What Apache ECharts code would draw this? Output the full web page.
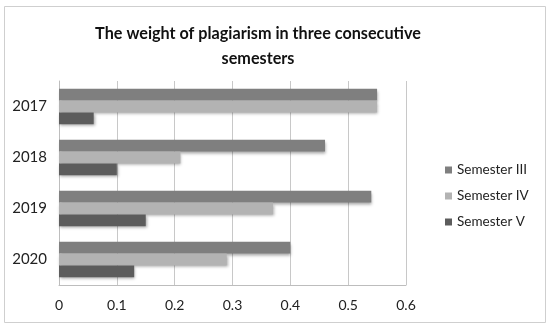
<!DOCTYPE html>
<html><head><meta charset="utf-8">
<script src="https://cdn.jsdelivr.net/npm/echarts@6/dist/echarts.min.js"></script>
<style>html,body{margin:0;padding:0;background:#fff}#c{width:550px;height:330px}</style>
</head><body><div id="c"></div>
<script>
const years = ['2017', '2018', '2019', '2020'];
const seriesNames = ['Semester III', 'Semester IV', 'Semester V'];
const semIII = [0.55, 0.46, 0.54, 0.40];
const semIV = [0.55, 0.21, 0.37, 0.29];
const semV = [0.06, 0.10, 0.15, 0.13];
const xTicks = [0, 0.1, 0.2, 0.3, 0.4, 0.5, 0.6];
const colors = ['#7f7f7f', '#b3b3b3', '#5c5c5c'];
const values = [semIII, semIV, semV];
const font = 'Lato, "Open Sans", sans-serif';
const chart = echarts.init(document.getElementById('c'));
chart.setOption({
  animation: false,
  color: colors,
  title: {
    text: 'The weight of plagiarism in three consecutive\nsemesters',
    left: 253, top: 16, textAlign: 'center',
    textStyle: { fontFamily: font, fontWeight: 'bold', fontSize: 16.2, color: '#111', lineHeight: 25 }
  },
  graphic: [{ type: 'rect', shape: { x: 4.5, y: 6.5, width: 541, height: 316 }, style: { fill: 'none', stroke: '#cfcfcf', lineWidth: 1 }, silent: true }],
  legend: {
    orient: 'vertical', left: 440, top: 158, itemWidth: 7, itemHeight: 7, itemGap: 12,
    icon: 'rect',
    textStyle: { fontFamily: font, fontSize: 13.5, color: '#222' },
    data: seriesNames
  },
  grid: { left: 59, right: 144, top: 81, bottom: 45 },
  xAxis: {
    type: 'value', min: 0, max: 0.6, interval: 0.1,
    axisLine: { show: true, lineStyle: { color: '#bdbdbd' } },
    axisTick: { show: false },
    splitLine: { show: true, lineStyle: { color: '#c8c8c8' } },
    axisLabel: { fontFamily: font, fontSize: 14, color: '#222', margin: 13,
      formatter: v => { const t = xTicks.find(x => Math.abs(x - v) < 1e-9); return t === undefined ? '' : String(t); } }
  },
  yAxis: {
    type: 'category', data: years, inverse: true,
    axisLine: { show: true, lineStyle: { color: '#bdbdbd' } },
    axisTick: { show: false },
    axisLabel: { fontFamily: font, fontSize: 15, color: '#222', margin: 12 }
  },
  series: values.map((v, i) => ({
    name: seriesNames[i], type: 'bar', data: v,
    barGap: '0%', barCategoryGap: '30%',
    itemStyle: { color: colors[i], shadowColor: 'rgba(0,0,0,0.35)', shadowBlur: 3, shadowOffsetX: 1, shadowOffsetY: 2 }
  }))
});
</script></body></html>
